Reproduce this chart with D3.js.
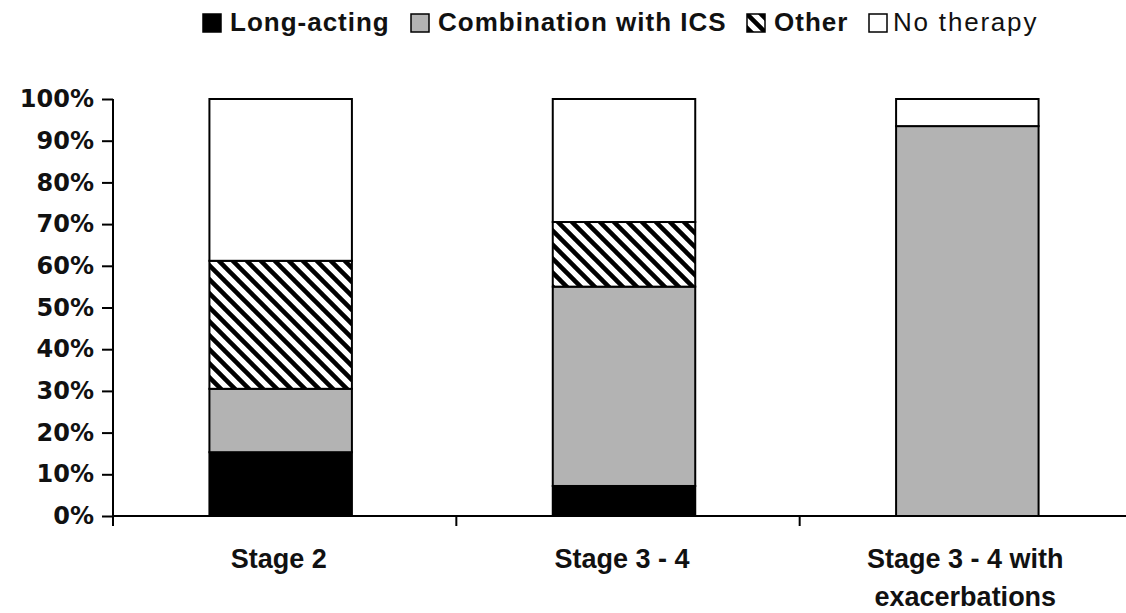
<!DOCTYPE html>
<html>
<head>
<meta charset="utf-8">
<script src="https://cdn.jsdelivr.net/npm/d3@7"></script>
<style>
  body { margin: 0; background: #fff; }
  svg { display: block; font-family: "Liberation Sans", Arial, sans-serif; }
</style>
</head>
<body>
<div class="board"></div>
<script>
// data
var categories = ['Stage 2', 'Stage 3 - 4', 'Stage 3 - 4 with|exacerbations'];
var seriesNames = ['Long-acting', 'Combination with ICS', 'Other', 'No therapy'];
var longActing = [15.3, 7.2, 0];
var combination = [15.2, 47.8, 93.5];
var other = [30.7, 15.5, 0];
var noTherapy = [38.8, 29.5, 6.5];
var yTicks = [0, 10, 20, 30, 40, 50, 60, 70, 80, 90, 100];

var W = 1126, H = 613;
var svg = d3.select('.board').append('svg')
  .attr('width', W).attr('height', H);

// hatch for "Other" (lines going down to the right)
var defs = svg.append('defs');
var pat = defs.append('pattern')
  .attr('id', 'hatch')
  .attr('patternUnits', 'userSpaceOnUse')
  .attr('width', 14).attr('height', 14);
pat.append('rect').attr('width', 14).attr('height', 14).attr('fill', '#fff');
pat.append('path')
  .attr('d', 'M-1,-1 L15,15 M-8,6 L8,22 M6,-8 L22,8')
  .attr('stroke', '#000').attr('stroke-width', 4.5);

var fills = ['#000', '#b3b3b3', 'url(#hatch)', '#fff'];

var x = d3.scaleBand().domain(categories).range([113, 1143]);
var y = d3.scaleLinear().domain([0, 100]).range([516, 99]);

var rows = categories.map(function(c, i) {
  return { cat: c, 'Long-acting': longActing[i], 'Combination with ICS': combination[i],
    'Other': other[i], 'No therapy': noTherapy[i] };
});
var stacked = d3.stack().keys(seriesNames)(rows);

var barW = x.bandwidth() * 0.415;
var g = svg.append('g');
stacked.forEach(function(s, si) {
  g.selectAll(null)
    .data(s.filter(function(d) { return d[1] - d[0] > 0; }))
    .enter()
    .append('rect')
    .attr('x', function(d) { return x(d.data.cat) + x.bandwidth() / 2 - barW / 2 - 4; })
    .attr('y', function(d) { return y(d[1]); })
    .attr('width', barW)
    .attr('height', function(d) { return y(d[0]) - y(d[1]); })
    .attr('fill', fills[si])
    .attr('stroke', '#000')
    .attr('stroke-width', 2);
});

// y axis
var yAxis = svg.append('g')
  .attr('transform', 'translate(113,0)')
  .call(d3.axisLeft(y).tickValues(yTicks).tickFormat(function(d) { return d + '%'; })
    .tickSize(11).tickPadding(8));
yAxis.select('.domain').remove();
yAxis.selectAll('line').attr('stroke', '#000').attr('stroke-width', 2);
yAxis.selectAll('text')
  .attr('font-size', 24).attr('font-weight', 'bold').attr('fill', '#111')
  .attr('font-family', '"DejaVu Sans", sans-serif');
svg.append('line')
  .attr('x1', 113).attr('x2', 113).attr('y1', 99).attr('y2', 526)
  .attr('stroke', '#000').attr('stroke-width', 2);

// x axis
svg.append('line')
  .attr('x1', 113).attr('x2', W).attr('y1', y(0)).attr('y2', y(0))
  .attr('stroke', '#000').attr('stroke-width', 2);
svg.selectAll('.xtick')
  .data(categories.slice(1))
  .enter().append('line')
  .attr('x1', function(d) { return x(d); })
  .attr('x2', function(d) { return x(d); })
  .attr('y1', y(0)).attr('y2', y(0) + 10)
  .attr('stroke', '#000').attr('stroke-width', 2);

var labels = svg.selectAll('.xlab')
  .data(categories)
  .enter().append('text')
  .attr('text-anchor', 'middle')
  .attr('font-size', 27).attr('font-weight', 'bold').attr('fill', '#111')
  .attr('transform', function(d) { return 'translate(' + (x(d) + x.bandwidth() / 2 - 6) + ',0)'; });
labels.each(function(d) {
  var t = d3.select(this);
  d.split('|').forEach(function(line, i) {
    t.append('tspan').attr('x', 0).attr('y', 568 + i * 38).text(line);
  });
});

// legend
var legendItems = [
  { name: 'Long-acting', x: 203, bold: true },
  { name: 'Combination with ICS', x: 411, bold: true },
  { name: 'Other', x: 747, bold: true },
  { name: 'No therapy', x: 869, bold: false }
];
var leg = svg.selectAll('.leg').data(legendItems).enter().append('g')
  .attr('transform', function(d) { return 'translate(' + d.x + ',0)'; });
leg.append('rect')
  .attr('x', 0).attr('y', 14).attr('width', 18).attr('height', 18)
  .attr('fill', function(d, i) { return fills[i]; })
  .attr('stroke', '#000').attr('stroke-width', 1.5);
leg.append('text')
  .attr('x', function(d) { return d.bold ? 27 : 24; }).attr('y', 31)
  .attr('font-size', 26)
  .attr('letter-spacing', function(d) { return d.bold ? 1 : 1.8; })
  .attr('font-weight', function(d) { return d.bold ? 'bold' : 'normal'; })
  .attr('fill', '#111')
  .text(function(d) { return d.name; });
</script>
</body>
</html>
